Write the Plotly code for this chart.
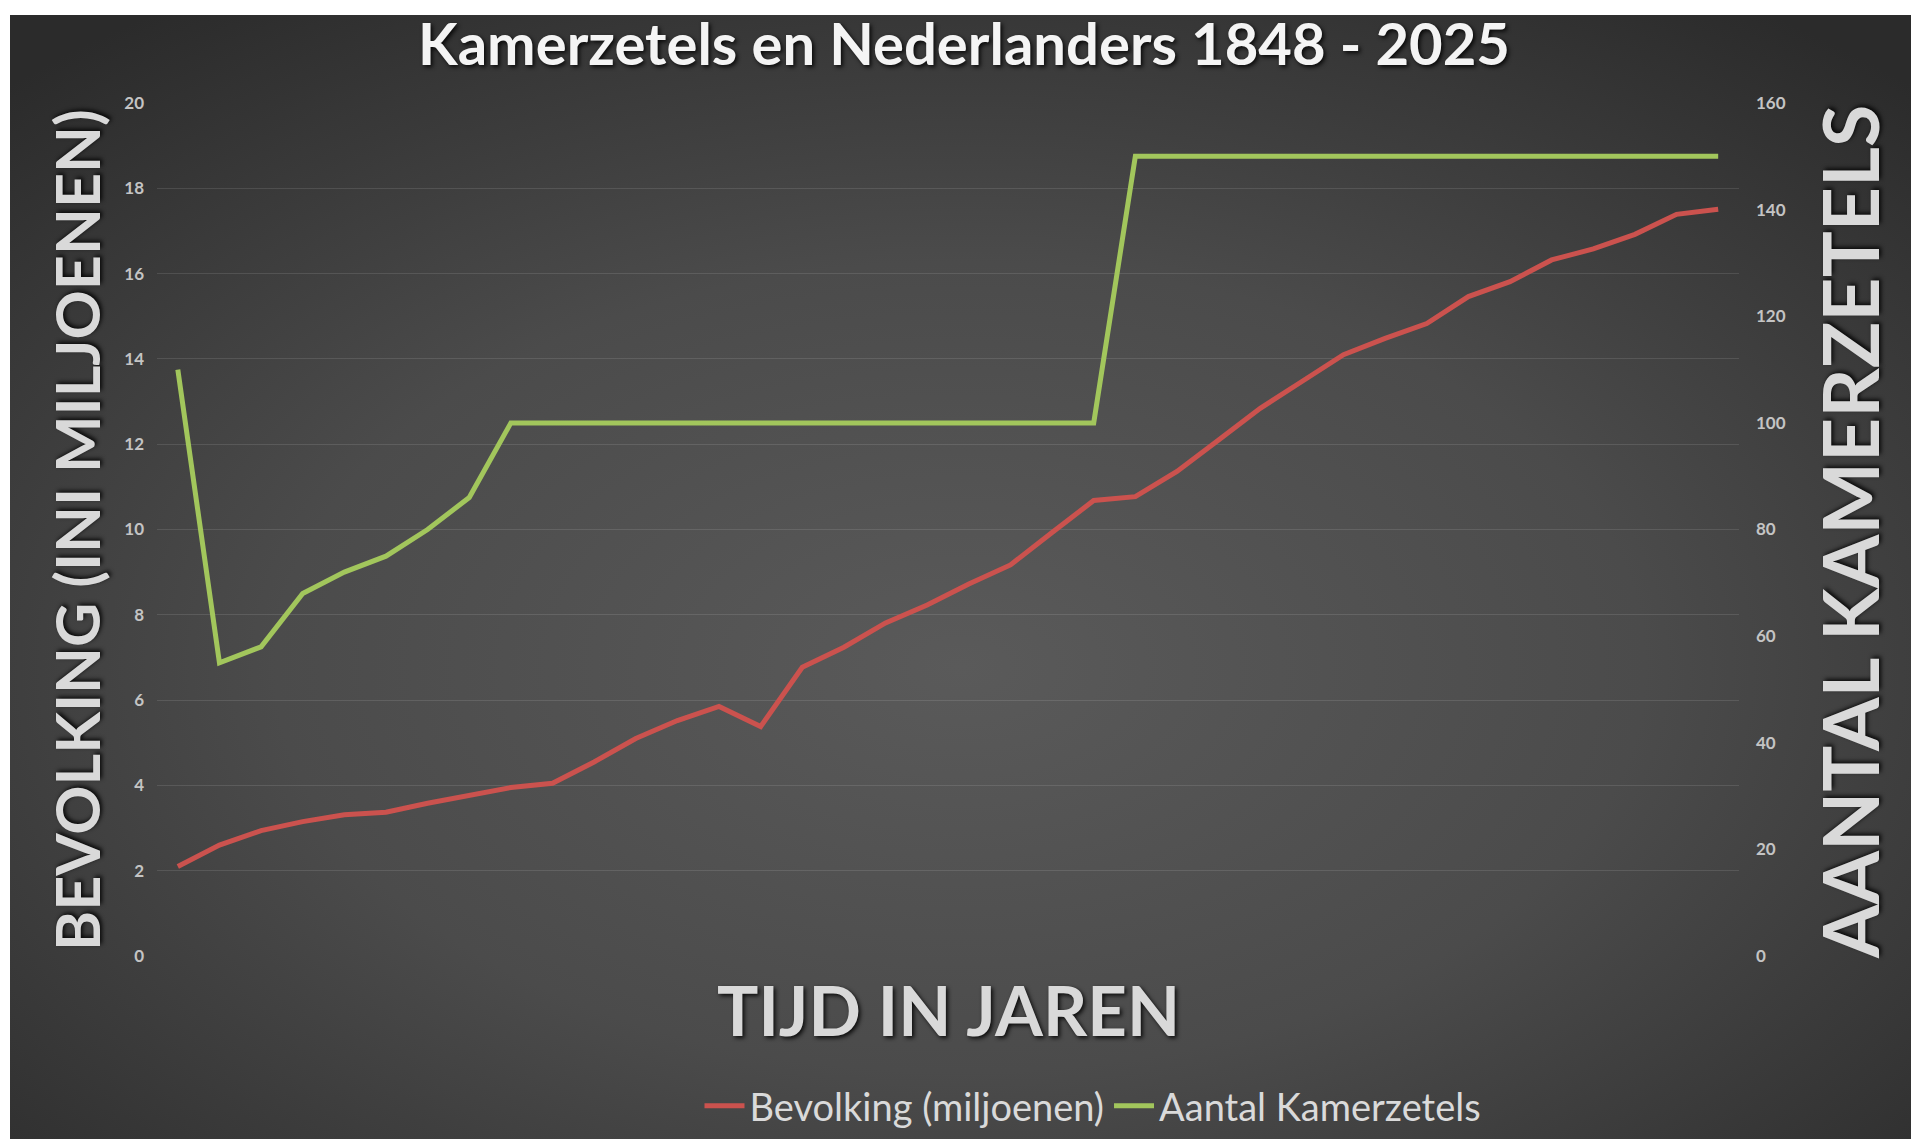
import base64
import plotly.graph_objects as go

# ---------------- data ----------------
meetpunten = [1, 2, 3, 4, 5, 6, 7, 8, 9, 10, 11, 12, 13, 14, 15, 16, 17, 18, 19,
              20, 21, 22, 23, 24, 25, 26, 27, 28, 29, 30, 31, 32, 33, 34, 35, 36, 37, 38]

bevolking = [2.10, 2.60, 2.94, 3.15, 3.31, 3.37, 3.58, 3.77, 3.95, 4.05,
             4.55, 5.10, 5.52, 5.85, 5.38, 6.77, 7.24, 7.81, 8.23, 8.72,
             9.17, 9.93, 10.68, 10.77, 11.36, 12.10, 12.84, 13.47, 14.10, 14.48,
             14.83, 15.46, 15.81, 16.32, 16.58, 16.92, 17.39, 17.51]

kamerzetels = [110, 55, 58, 68, 72, 75, 80, 86,
               100, 100, 100, 100, 100, 100, 100, 100, 100, 100, 100, 100, 100, 100, 100,
               150, 150, 150, 150, 150, 150, 150, 150, 150, 150, 150, 150, 150, 150, 150]

titel = "Kamerzetels en Nederlanders 1848 - 2025"
naam_bevolking = "Bevolking (miljoenen)"
naam_zetels = "Aantal Kamerzetels"
titel_links = "BEVOLKING (INI MILJOENEN)"
titel_rechts = "AANTAL KAMERZETELS"
titel_x = "TIJD IN JAREN"

# ---------------- layout geometry ----------------
W, H = 1920, 1143
L, R, T, B = 157, 181, 103, 187
PW, PH = W - L - R, H - T - B


def px_x(X):
    return (X - L) / PW


def px_y(Y):
    return (H - B - Y) / PH


FONT = "Lato, 'Open Sans', sans-serif"
SHADOW = "2px 2px 4px rgba(0,0,0,0.85)"

# radial gradient background (chart area of the Excel chart)
bg_x0, bg_y0, bg_x1, bg_y1 = 10, 15, 1911, 1139
bw, bh = bg_x1 - bg_x0, bg_y1 - bg_y0
svg = (
    f'<svg xmlns="http://www.w3.org/2000/svg" width="{bw}" height="{bh}" '
    f'viewBox="0 0 {bw} {bh}" preserveAspectRatio="none">'
    '<defs><radialGradient id="g" cx="0.5" cy="0.58" r="0.72">'
    '<stop offset="0" stop-color="#5a5a5a"/>'
    '<stop offset="0.5" stop-color="#4b4b4b"/>'
    '<stop offset="1" stop-color="#2b2b2b"/>'
    '</radialGradient></defs>'
    f'<rect width="{bw}" height="{bh}" fill="url(#g)"/></svg>'
)
bg_src = "data:image/svg+xml;base64," + base64.b64encode(svg.encode()).decode()

fig = go.Figure()

fig.add_trace(go.Scatter(
    x=meetpunten, y=bevolking, name=naam_bevolking, mode="lines",
    line=dict(color="#CB524E", width=5), yaxis="y", hoverinfo="skip",
))
fig.add_trace(go.Scatter(
    x=meetpunten, y=kamerzetels, name=naam_zetels, mode="lines",
    line=dict(color="#A2C65C", width=5), yaxis="y2", hoverinfo="skip",
))

fig.update_layout(
    width=W, height=H,
    margin=dict(l=L, r=R, t=T, b=B, autoexpand=False),
    paper_bgcolor="#ffffff",
    plot_bgcolor="rgba(0,0,0,0)",
    showlegend=True,
    title=dict(
        text=titel, x=964 / W, y=1 - 45 / H, xref="container", yref="container",
        xanchor="center", yanchor="middle",
        font=dict(family=FONT, size=58, color="#f4f4f4", weight="bold", shadow=SHADOW),
    ),
    xaxis=dict(
        range=[0.5, 38.5], showgrid=False, zeroline=False, showline=False,
        showticklabels=False, ticks="", fixedrange=True,
    ),
    yaxis=dict(
        range=[0, 20], dtick=2, tick0=0, showgrid=True,
        gridcolor="rgba(255,255,255,0.11)", gridwidth=1,
        zeroline=False, showline=False, ticks="",
        ticklabelstandoff=12,
        tickfont=dict(family=FONT, size=17, color="#c4c4c4", weight="bold"),
    ),
    yaxis2=dict(
        range=[0, 160], dtick=20, tick0=0, overlaying="y", side="right",
        showgrid=False, zeroline=False, showline=False, ticks="",
        ticklabelstandoff=16,
        tickfont=dict(family=FONT, size=17, color="#c4c4c4", weight="bold"),
    ),
    legend=dict(
        orientation="h", x=px_x(1093), y=px_y(1106), xanchor="center", yanchor="middle",
        bgcolor="rgba(0,0,0,0)", font=dict(family=FONT, size=38, color="#dadada"),
        itemwidth=40, tracegroupgap=0,
    ),
    images=[dict(
        source=bg_src, xref="paper", yref="paper",
        x=px_x(bg_x0), y=px_y(bg_y0), sizex=bw / PW, sizey=bh / PH,
        xanchor="left", yanchor="top", sizing="stretch", layer="below",
    )],
    annotations=[
        dict(text=titel_links, x=px_x(76), y=px_y(530), xref="paper", yref="paper",
             textangle=-90, showarrow=False, xanchor="center", yanchor="middle",
             font=dict(family=FONT, size=61, color="#d9d9d9", weight="bold", shadow=SHADOW)),
        dict(text=titel_rechts, x=px_x(1849), y=px_y(532), xref="paper", yref="paper",
             textangle=-90, showarrow=False, xanchor="center", yanchor="middle",
             font=dict(family=FONT, size=77, color="#d9d9d9", weight="bold", shadow=SHADOW)),
        dict(text=titel_x, x=px_x(948), y=px_y(1009), xref="paper", yref="paper",
             showarrow=False, xanchor="center", yanchor="middle",
             font=dict(family=FONT, size=69, color="#d9d9d9", weight="bold", shadow=SHADOW)),
    ],
)

fig.write_html(
    "out.html",
    config={"displayModeBar": False},
    post_script="document.body.style.margin='0';document.body.style.overflow='hidden';",
)
